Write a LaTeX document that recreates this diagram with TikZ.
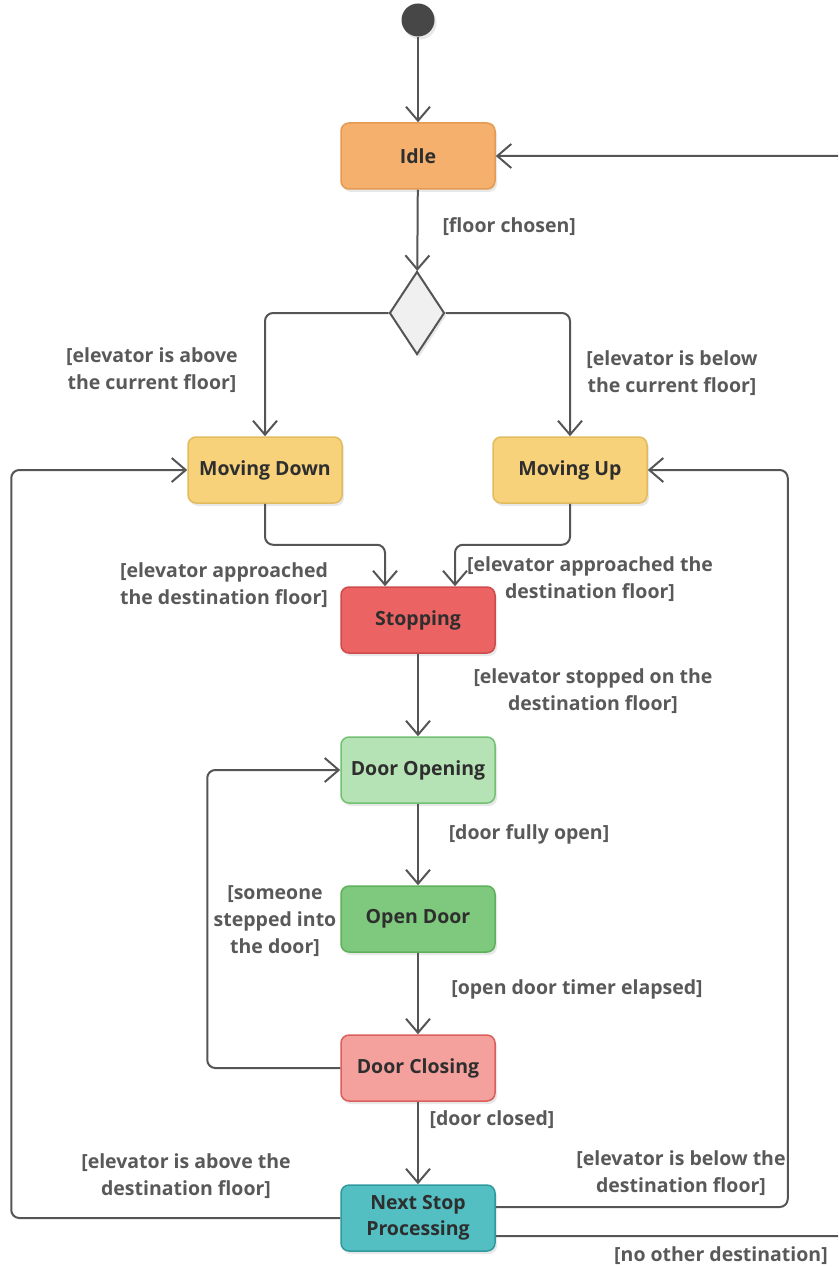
\documentclass[tikz,border=0pt]{standalone}
\usepackage{fontspec}
\setmainfont{Open Sans}
\usetikzlibrary{arrows.meta,shapes.geometric,shadows}

\definecolor{linegray}{HTML}{555555}
\definecolor{labelgray}{HTML}{595959}
\definecolor{textdark}{HTML}{2E2E2E}
\definecolor{idlefill}{HTML}{F6B06E}
\definecolor{idledraw}{HTML}{E39A52}
\definecolor{movefill}{HTML}{F7D27B}
\definecolor{movedraw}{HTML}{E2BB5E}
\definecolor{stopfill}{HTML}{EB6363}
\definecolor{stopdraw}{HTML}{CF4B4B}
\definecolor{openingfill}{HTML}{B6E3B5}
\definecolor{openingdraw}{HTML}{72C172}
\definecolor{openfill}{HTML}{7EC97D}
\definecolor{opendraw}{HTML}{5DB05C}
\definecolor{closingfill}{HTML}{F4A19D}
\definecolor{closingdraw}{HTML}{DA5E5B}
\definecolor{nextfill}{HTML}{53BFC3}
\definecolor{nextdraw}{HTML}{2F9A9E}

\tikzset{
  state/.style={draw, rounded corners=8pt, line width=1.5pt,
    minimum width=154pt, minimum height=66pt, align=center, inner sep=2pt,
    font=\fontsize{19.5}{26}\selectfont\bfseries, text=textdark,
    drop shadow={opacity=0.18, shadow xshift=2pt, shadow yshift=-3pt}},
  choice/.style={diamond, draw=linegray, fill=black!6, line width=2pt,
    minimum width=55pt, minimum height=83pt, inner sep=0pt,
    drop shadow={opacity=0.18, shadow xshift=2pt, shadow yshift=-3pt}},
  flow/.style={draw=linegray, line width=2pt, rounded corners=8pt,
    -{Straight Barb[length=14pt,width=24pt,line width=2pt]}},
  guard/.style={align=center, text=labelgray,
    font=\fontsize{19.5}{27}\selectfont\bfseries}
}

\begin{document}
\begin{tikzpicture}[x=1pt,y=-1pt]
\clip (0,0) rectangle (838,1268);

% states
\node[circle, fill=black!72, minimum size=33pt, inner sep=0pt,
  drop shadow={opacity=0.18, shadow xshift=2pt, shadow yshift=-3pt}] (start) at (418,20) {};
\node[state, fill=idlefill, draw=idledraw] (idle) at (418,156) {Idle};
\node[choice] (floorchoice) at (417,313) {};
\node[state, fill=movefill, draw=movedraw] (movedown) at (265,470) {Moving Down};
\node[state, fill=movefill, draw=movedraw] (moveup) at (570,470) {Moving Up};
\node[state, fill=stopfill, draw=stopdraw] (stopping) at (418,620) {Stopping};
\node[state, fill=openingfill, draw=openingdraw] (dooropening) at (418,770) {Door Opening};
\node[state, fill=openfill, draw=opendraw] (opendoor) at (418,919) {Open Door};
\node[state, fill=closingfill, draw=closingdraw] (doorclosing) at (418,1068) {Door Closing};
\node[state, fill=nextfill, draw=nextdraw] (nextstop) at (418,1218) {Next Stop\\Processing};

% transitions
\draw[flow] (start) -- (idle);
\draw[flow] (idle) -- (floorchoice);
\draw[flow] (floorchoice.west) -| (movedown);
\draw[flow] (floorchoice.east) -| (moveup);
\draw[flow] (movedown.south) -- ++(0,41) -| ([xshift=-33pt]stopping.north);
\draw[flow] (moveup.south) -- ++(0,41) -| ([xshift=37pt]stopping.north);
\draw[flow] (stopping) -- (dooropening);
\draw[flow] (dooropening) -- (opendoor);
\draw[flow] (opendoor) -- (doorclosing);
\draw[flow] (doorclosing.west) -- ++(-133,0) |- (dooropening.west);
\draw[flow] (doorclosing) -- (nextstop);
\draw[flow] (nextstop.west) -- ++(-329,0) |- (movedown.west);
\draw[flow] ([yshift=11pt]nextstop.east) -- ++(292,0) |- (moveup.east);
\draw[flow] ([yshift=-18pt]nextstop.east) -- ++(420,0) |- (idle.east);

% guards
\node[guard, anchor=west] (gchosen) at (439,227) {[floor chosen]};
\node[guard] (gabove) at (152,370) {[elevator is above\\the current floor]};
\node[guard] (gbelow) at (672,373) {[elevator is below\\the current floor]};
\node[guard] (gapprleft) at (224,585) {[elevator approached\\the destination floor]};
\node[guard] (gapprright) at (590,579) {[elevator approached the\\destination floor]};
\node[guard] (gstopped) at (593,691) {[elevator stopped on the\\destination floor]};
\node[guard] (gfullyopen) at (529,834) {[door fully open]};
\node[guard] (gsomeone) at (275,921) {[someone\\stepped into\\the door]};
\node[guard] (gtimer) at (577,989) {[open door timer elapsed]};
\node[guard] (gclosed) at (492,1120) {[door closed]};
\node[guard] (gabovedest) at (186,1176) {[elevator is above the\\destination floor]};
\node[guard] (gbelowdest) at (681,1173) {[elevator is below the\\destination floor]};
\node[guard] (gnoother) at (721,1256) {[no other destination]};
\end{tikzpicture}
\end{document}
